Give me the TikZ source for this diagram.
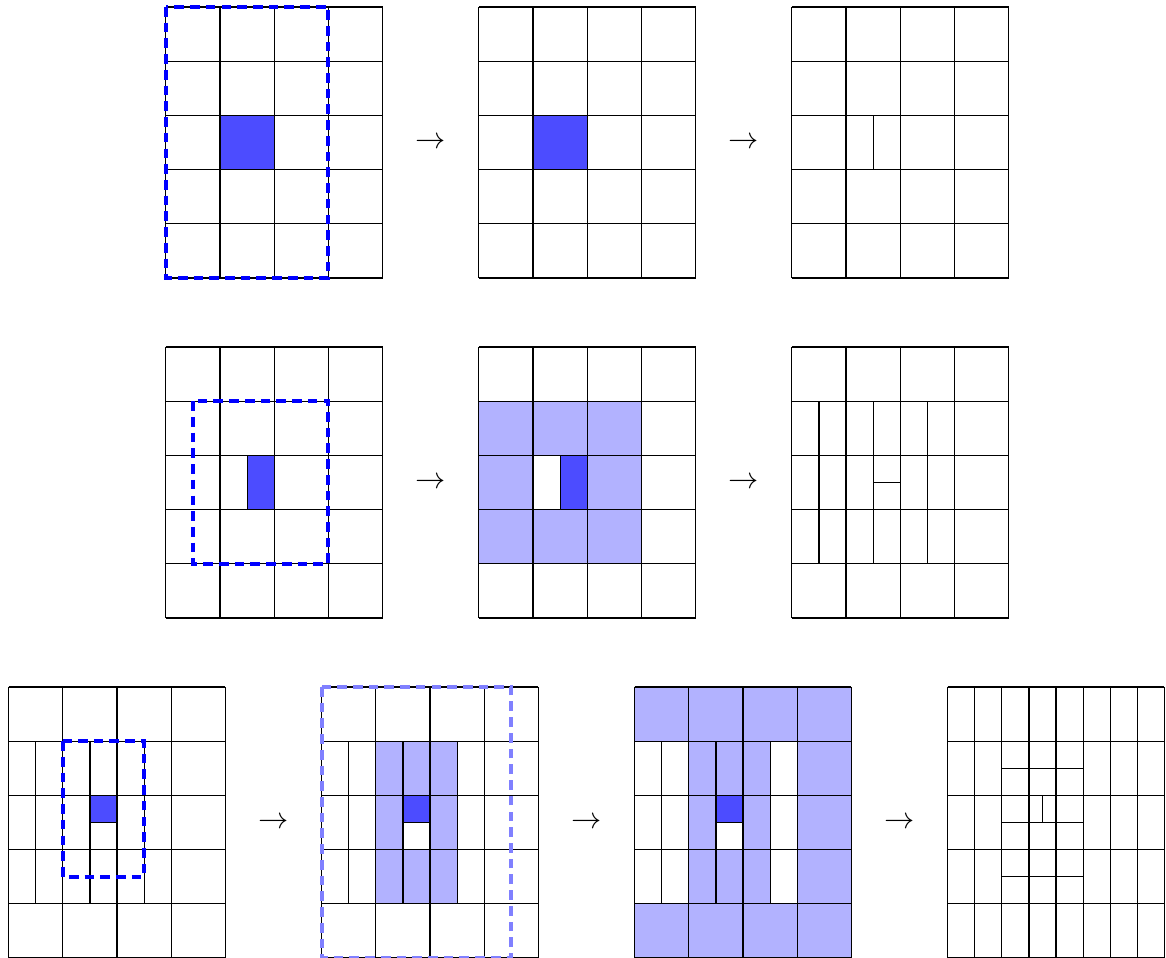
\documentclass[tikz,border=0pt]{standalone}
\usepackage{tikz}

\begin{document}
\begin{tikzpicture}[
  x=0.63cm, y=-0.63cm,
  cell/.style={draw=black, line width=0.4pt},
  hit/.style={draw=black, line width=0.4pt, fill=blue!70},
  near/.style={fill=blue!30},
  win/.style={draw=blue, dash pattern=on 3.2pt off 2pt, line width=1.3pt},
  oldwin/.style={draw=blue!50, dash pattern=on 3.2pt off 2pt, line width=1.3pt},
  board/.pic={
    \foreach \i in {0,...,4} \draw[cell] (\i,0) -- (\i,5);
    \foreach \j in {0,...,5} \draw[cell] (0,\j) -- (4,\j);
  },
]
  \useasboundingbox (0,0) rectangle (21.513,17.66);

  % Row 1: one cell picked
  \begin{scope}[shift={(3.06,0.129)}]
    \filldraw[hit] (1,2) rectangle (2,3);
    \pic {board};
    \draw[win] (0,0) rectangle (3,5);
  \end{scope}
  \begin{scope}[shift={(8.835,0.129)}]
    \filldraw[hit] (1,2) rectangle (2,3);
    \pic {board};
  \end{scope}
  \begin{scope}[shift={(14.61,0.129)}]
    \pic {board};
    \draw[cell] (1.5,2) -- (1.5,3);
  \end{scope}

  % Row 2: half cell, neighbours marked
  \begin{scope}[shift={(3.06,6.402)}]
    \filldraw[hit] (1.5,2) rectangle (2,3);
    \pic {board};
    \draw[win] (0.5,1) rectangle (3,4);
  \end{scope}
  \begin{scope}[shift={(8.835,6.402)}]
    \fill[near] (0,1) rectangle (3,4);
    \fill[white] (1,2) rectangle (2,3);
    \filldraw[hit] (1.5,2) rectangle (2,3);
    \pic {board};
  \end{scope}
  \begin{scope}[shift={(14.61,6.402)}]
    \pic {board};
    \foreach \x in {0.5,1.5,2.5} \draw[cell] (\x,1) -- (\x,4);
    \draw[cell] (1.5,2.5) -- (2,2.5);
  \end{scope}

  % Row 3: quarter cell, two rings
  \begin{scope}[shift={(0.16,12.675)}]
    \filldraw[hit] (1.5,2) rectangle (2,2.5);
    \pic {board};
    \foreach \x in {0.5,1.5,2.5} \draw[cell] (\x,1) -- (\x,4);
    \draw[win] (1,1) rectangle (2.5,3.5);
  \end{scope}
  \begin{scope}[shift={(5.935,12.675)}]
    \fill[near] (1,1) rectangle (2.5,4);
    \fill[white] (1.5,2) rectangle (2,3);
    \filldraw[hit] (1.5,2) rectangle (2,2.5);
    \pic {board};
    \foreach \x in {0.5,1.5,2.5} \draw[cell] (\x,1) -- (\x,4);
    \draw[oldwin] (0,0) rectangle (3.5,5);
  \end{scope}
  \begin{scope}[shift={(11.71,12.675)}]
    \fill[near] (0,0) rectangle (4,1);
    \fill[near] (0,4) rectangle (4,5);
    \fill[near] (3,1) rectangle (4,4);
    \fill[near] (1,1) rectangle (2.5,4);
    \fill[white] (1.5,2) rectangle (2,3);
    \filldraw[hit] (1.5,2) rectangle (2,2.5);
    \pic {board};
    \foreach \x in {0.5,1.5,2.5} \draw[cell] (\x,1) -- (\x,4);
  \end{scope}
  \begin{scope}[shift={(17.485,12.675)}]
    \pic {board};
    \foreach \x in {0.5,1.5,...,3.5} \draw[cell] (\x,0) -- (\x,5);
    \foreach \y in {1.5,2.5,3.5} \draw[cell] (1,\y) -- (2.5,\y);
    \draw[cell] (1.75,2) -- (1.75,2.5);
  \end{scope}

  % Arrows between stages
  \node (r1a) at (7.9475,2.629) {$\rightarrow$};
  \node (r1b) at (13.7225,2.629) {$\rightarrow$};
  \node (r2a) at (7.9475,8.902) {$\rightarrow$};
  \node (r2b) at (13.7225,8.902) {$\rightarrow$};
  \node (r3a) at (5.0475,15.175) {$\rightarrow$};
  \node (r3b) at (10.8225,15.175) {$\rightarrow$};
  \node (r3c) at (16.5975,15.175) {$\rightarrow$};
\end{tikzpicture}
\end{document}
